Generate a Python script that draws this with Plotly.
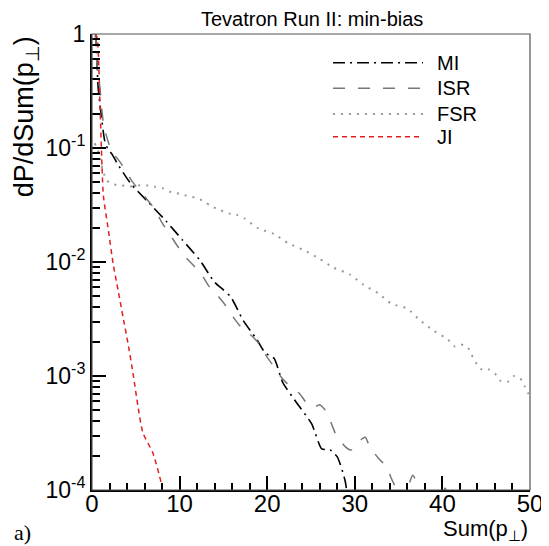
import plotly.graph_objects as go

# ---- data ----
mi_x = [0.4, 0.55, 0.7, 1.05, 1.45, 1.8, 2.3, 2.8, 4.4, 6.4, 8.45, 10.35, 12.3, 13.96, 15.0, 15.87,
        17.27, 18.8, 19.75, 20.78, 21.77, 23.44, 25.08, 26.22, 27.2, 28.0, 28.9, 29.3]
mi_y = [1.0, 0.6, 0.34, 0.196, 0.116, 0.098, 0.088, 0.075, 0.049, 0.0336, 0.0229, 0.0155, 0.0104,
        0.0067, 0.0057, 0.0049, 0.00306, 0.0021, 0.0016, 0.00143, 0.00088, 0.00057, 0.00038,
        0.00023, 0.000224, 0.000195, 0.00012, 0.00007]

isr_x = [0.4, 0.6, 0.85, 1.3, 1.7, 2.25, 3.0, 3.9, 4.5, 7.2, 7.95, 8.9, 9.67, 10.6, 11.6, 12.5, 13.3,
         14.4, 15.2, 16.1, 16.9, 18.0, 19.0, 19.7, 20.5, 21.5, 22.2, 23.7, 24.5, 25.3, 26.0, 26.8,
         27.4, 27.9, 28.9, 29.5, 29.9, 30.8, 31.2, 31.7, 32.7, 33.6, 34.2, 34.8, 35.3, 35.7, 36.0,
         36.6, 37.1, 37.6, 39.5, 40.3, 41.0]
isr_y = [1.0, 0.5, 0.37, 0.165, 0.124, 0.093, 0.079, 0.063, 0.052, 0.0288, 0.0224, 0.0174, 0.0141,
         0.0112, 0.0093, 0.0078, 0.0062, 0.0050, 0.0042, 0.0033, 0.00275, 0.00234, 0.00195, 0.00158,
         0.00129, 0.00100, 0.00087, 0.00070, 0.00058, 0.00053, 0.00056, 0.00048, 0.00037, 0.00030,
         0.00024, 0.000224, 0.00023, 0.00028, 0.00029, 0.00024, 0.00019, 0.00016, 0.000125, 0.0001,
         0.00008, 0.00009, 0.0001, 0.000135, 0.000115, 0.00007, 0.00007, 0.000104, 0.00007]

fsr_x = [0.3, 0.5, 0.87, 1.06, 1.64, 2.28, 3.35, 4.34, 5.3, 6.24, 7.2, 8.1, 9.1, 10.0, 11.0, 11.9,
         12.8, 13.6, 14.6, 15.6, 16.5, 17.4, 19.0, 20.8, 22.4, 24.2, 25.95, 27.6, 29.4, 31.0, 32.7,
         34.2, 36.0, 37.4, 39.0, 40.6, 41.4, 42.1, 42.9, 43.3, 43.8, 44.4, 45.2, 46.0, 46.6, 47.45,
         48.2, 48.9, 49.4, 49.7, 50.0]
fsr_y = [0.11, 0.102, 0.087, 0.0715, 0.0527, 0.0483, 0.047, 0.046, 0.047, 0.047, 0.0457, 0.0443,
         0.0408, 0.0398, 0.0377, 0.0365, 0.0340, 0.0309, 0.0286, 0.0267, 0.0260, 0.0241, 0.0197,
         0.0176, 0.0146, 0.0127, 0.0107, 0.0089, 0.0078, 0.0063, 0.0053, 0.0043, 0.0039, 0.0031,
         0.0025, 0.0021, 0.00182, 0.00189, 0.00178, 0.00155, 0.00132, 0.00115, 0.00115, 0.00105,
         0.00091, 0.00089, 0.0010, 0.00095, 0.00081, 0.00072, 0.00068]

ji_x = [0.4, 0.6, 0.75, 0.88, 1.14, 1.3, 1.83, 2.4, 2.97, 3.54, 4.1, 4.68, 5.25, 5.8, 6.96, 7.9, 8.3]
ji_y = [1.0, 0.92, 0.6, 0.29, 0.07, 0.038, 0.020, 0.0098, 0.0057, 0.0033, 0.00195, 0.00106,
        0.00054, 0.00032, 0.00021, 0.000115, 0.00007]

names = ["MI", "ISR", "FSR", "JI"]
colors = ["#000000", "#777777", "#999999", "#e02020"]
dashes = ["12px,5px,2px,5px", "12px,13px", "2px,6px", "5px,4px"]
widths = [1.6, 1.5, 2.0, 1.5]

title_text = "Tevatron Run II: min-bias"
y_tickvals = [1e-4, 1e-3, 1e-2, 1e-1, 1]
y_ticktext = ["10<sup>-4</sup>", "10<sup>-3</sup>", "10<sup>-2</sup>", "10<sup>-1</sup>", "1"]
x_tickvals = [0, 10, 20, 30, 40, 50]

FONT = "Liberation Sans, Arial, Helvetica, sans-serif"

fig = go.Figure()
series = [(mi_x, mi_y), (isr_x, isr_y), (fsr_x, fsr_y), (ji_x, ji_y)]
for (xs, ys), n, c, d, w in zip(series, names, colors, dashes, widths):
    fig.add_trace(go.Scatter(x=xs, y=ys, mode="lines", name=n,
                             line=dict(color=c, dash=d, width=w, shape="spline", smoothing=0.6),
                             showlegend=False))

minor_y = [k * 10.0 ** e for e in range(-4, 0) for k in range(2, 10)]

# page body has an 8px margin: figure offset accordingly
fig.update_layout(
    width=541, height=538,
    margin=dict(l=84, r=19, t=26, b=56, autoexpand=False),
    paper_bgcolor="white", plot_bgcolor="white",
    font=dict(family=FONT, color="black"),
    xaxis=dict(range=[0, 50], tickvals=x_tickvals, ticks="inside", ticklen=14, tickwidth=2,
               tickcolor="black", showline=True, linewidth=2, linecolor="black",
               showgrid=False, zeroline=False, tickfont=dict(size=24), ticklabelstandoff=-9,
               automargin=False,
               minor=dict(dtick=2, ticks="inside", ticklen=7, tickwidth=1.5, tickcolor="black",
                          showgrid=False)),
    yaxis=dict(type="log", range=[-4, 0], tickvals=y_tickvals, ticktext=y_ticktext,
               ticks="inside", ticklen=14, tickwidth=2, tickcolor="black",
               showline=True, linewidth=2, linecolor="black", showgrid=False, zeroline=False,
               tickfont=dict(size=23), automargin=False,
               minor=dict(tickvals=minor_y, ticks="inside", ticklen=8, tickwidth=1.5,
                          tickcolor="black", showgrid=False)),
)

# frame (top / right thin)
fig.add_shape(type="rect", xref="paper", yref="paper", x0=0, y0=0, x1=1, y1=1,
              line=dict(color="#555555", width=1.2), layer="above")

# legend drawn manually
leg_rows = [0.937, 0.881, 0.8246, 0.7748]
for n, c, d, w, yy in zip(names, colors, dashes, widths, leg_rows):
    fig.add_shape(type="line", xref="paper", yref="paper", x0=0.5502, x1=0.7557, y0=yy, y1=yy,
                  line=dict(color=c, dash=d, width=w))
    fig.add_annotation(text=n, xref="paper", yref="paper", x=0.7831, y=yy, xanchor="left",
                       yanchor="middle", showarrow=False, font=dict(size=20, family=FONT))

# title
fig.add_annotation(text=title_text, xref="paper", yref="paper", x=0.502, y=1.0, yshift=2,
                   xanchor="center", yanchor="bottom", showarrow=False,
                   font=dict(size=20, family=FONT))
# axis titles
fig.add_annotation(text="Sum(p<sub>⊥</sub>)", xref="paper", yref="paper", x=1.0, y=0,
                   yshift=-24, xanchor="right", yanchor="top", showarrow=False,
                   font=dict(size=22, family=FONT))
fig.add_annotation(text="dP/dSum(p<sub>⊥</sub>)", xref="paper", yref="paper", x=-0.151, y=1.0,
                   xanchor="center", yanchor="top", textangle=-90, showarrow=False,
                   font=dict(size=27, family=FONT))
# panel label
fig.add_annotation(text="a)", xref="paper", yref="paper", x=-0.183, y=-0.094,
                   xanchor="left", yanchor="middle", showarrow=False,
                   font=dict(size=22, family="Liberation Serif, Times New Roman, serif"))

fig.write_html("out.html")
